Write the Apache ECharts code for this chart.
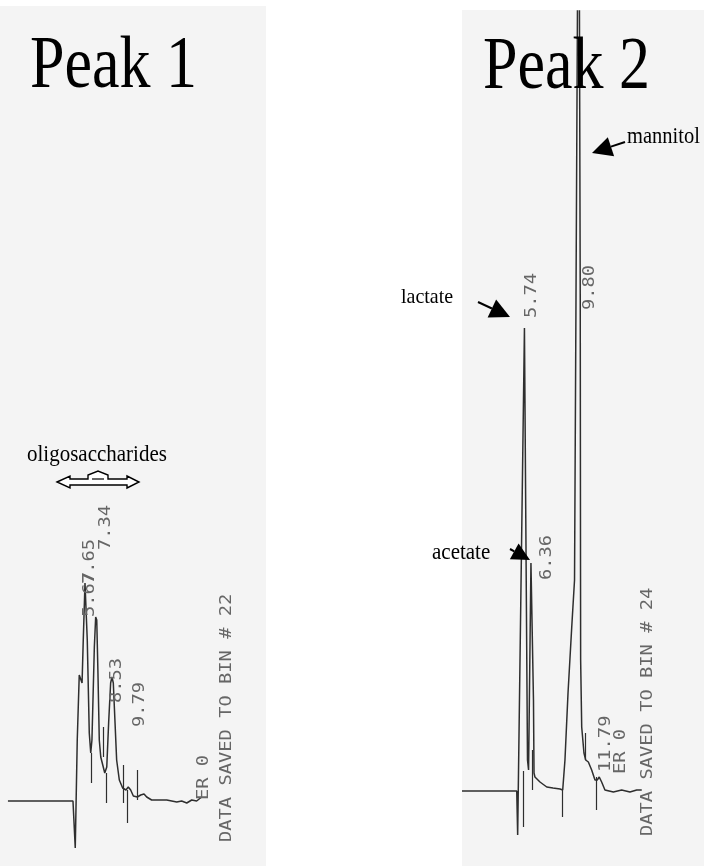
<!DOCTYPE html>
<html><head><meta charset="utf-8">
<script src="https://cdn.jsdelivr.net/npm/echarts@6/dist/echarts.min.js"></script>
<style>html,body{margin:0;padding:0;background:#fff}#c{width:704px;height:866px}</style>
</head><body><div id="c"></div>
<script>
// ---- Peak 1 chromatogram (time in min, detector signal in arbitrary units) ----
const peak1Time   = [0.72,5.59,5.67,5.76,5.91,6.06,6.17,6.27,6.36,6.49,6.57,6.66,6.81,6.92,7.01,7.19,7.29,7.37,7.46,7.56,7.67,7.82,7.97,8.12,8.26,8.41,8.51,8.61,8.74,8.86,9.06,9.31,9.56,9.73,9.91,10.11,10.41,10.66,10.91,11.11,11.48,12.61,13.36,13.73,14.11,14.48,14.85,15.23];
const peak1Signal = [0,0,-0.2,-4.7,6.1,12.6,12.8,11.8,16.1,21.8,21.6,16.1,6.8,4.8,6.1,15.4,18.4,18.1,12.8,6.1,4.4,3.6,2.8,3.4,7.8,11.8,12.4,11.8,7.8,4.1,2.1,1.3,1.1,1.4,1.1,0.5,0.4,0.6,0.7,0.4,0.1,0.1,-0.1,0,-0.2,0.1,0,0.4];
const peak1MarkTime = [6.99,7.82,8.06,9.36,9.64,10.41];
const peak1MarkFrom = [4.8,7.4,2.8,3.6,1.1,3.1];
const peak1MarkTo   = [1.8,4.4,-0.2,-0.2,-2.2,0.1];
const peak1LabelText   = ['5.67','7.65','7.34','8.53','9.79'];
const peak1LabelTime   = [6.86,6.86,8.06,8.89,10.61];
const peak1LabelSignal = [18.4,21.7,25.1,9.8,7.4];

// ---- Peak 2 chromatogram ----
const peak2Time   = [1.0,5.12,5.19,5.70,5.82,5.93,6.01,6.19,6.27,6.38,6.42,6.49,6.87,7.38,7.85,8.38,8.58,8.75,8.98,9.26,9.47,9.58,9.69,9.77,9.84,9.90,9.92,9.93,10.01,10.18,10.31,10.51,10.76,11.01,11.18,11.33,11.51,11.76,12.39,13.02,13.64,14.15,14.53];
const peak2Signal = [0,0,-4.4,46.3,46.3,3.1,2.1,22.8,22.8,9.1,1.8,1.4,0.9,0.4,0.3,0.2,0.1,3.1,9.8,16.4,21.1,49.1,78,95,78,49.1,23.1,13.1,6.4,3.8,3.1,2.9,2.1,1.1,1.1,1.4,0.9,0.1,-0.1,0.1,-0.1,0.1,0.1];
const peak2MarkTime = [5.62,6.25,8.55,10.31,11.14];
const peak2MarkFrom = [2,4.1,0.1,5.8,1.4];
const peak2MarkTo   = [-3.6,0.1,-2.6,3.1,-1.9];
const peak2LabelText   = ['5.74','6.36','9.80','11.79'];
const peak2LabelTime   = [6.27,7.40,10.63,11.84];
const peak2LabelSignal = [47.3,21.1,48.1,1.9];

const SERIF = '"Liberation Serif", "Times New Roman", serif';
const MONO = '"DejaVu Sans Mono", "Liberation Mono", monospace';
const TRACE = '#2e2e2e';
const PRINT = '#666666';

const chart = echarts.init(document.getElementById('c'));
const pairs = (t, v) => t.map((x, i) => [x, v[i]]);
const marks = (t, a, b) => t.map((x, i) => [{coord: [x, a[i]]}, {coord: [x, b[i]]}]);

function traceSeries(idx, t, v, mt, ma, mb) {
  return {
    type: 'line', xAxisIndex: idx, yAxisIndex: idx,
    data: pairs(t, v), symbol: 'none', clip: true, silent: true,
    lineStyle: {color: TRACE, width: 1.5},
    markLine: {
      silent: true, symbol: ['none', 'none'], label: {show: false},
      lineStyle: {color: TRACE, width: 1.2, type: 'solid'},
      data: marks(mt, ma, mb)
    }
  };
}

chart.setOption({
  animation: false,
  backgroundColor: '#ffffff',
  grid: [
    {left: 5, top: 21, width: 207, height: 840},
    {left: 462, top: 11, width: 186, height: 840}
  ],
  xAxis: [
    {gridIndex: 0, type: 'value', min: 0.5, max: 16, show: false},
    {gridIndex: 1, type: 'value', min: 1, max: 15, show: false}
  ],
  yAxis: [
    {gridIndex: 0, type: 'value', min: -6, max: 78, show: false},
    {gridIndex: 1, type: 'value', min: -6, max: 78, show: false}
  ],
  series: [
    traceSeries(0, peak1Time, peak1Signal, peak1MarkTime, peak1MarkFrom, peak1MarkTo),
    traceSeries(1, peak2Time, peak2Signal, peak2MarkTime, peak2MarkFrom, peak2MarkTo)
  ]
});

function vtext(x, y, text, size, sx) {
  return {type: 'text', x: x, y: y, rotation: Math.PI / 2, scaleX: sx || 1.25, z: 10,
    style: {text: text, font: size + 'px ' + MONO, fill: PRINT,
      textAlign: 'left', textVerticalAlign: 'middle', align: 'left', verticalAlign: 'middle'}};
}
function htext(x, y, text, size, sy, align) {
  return {type: 'text', x: x, y: y, scaleY: sy || 1, z: 10,
    style: {text: text, font: size + 'px ' + SERIF, fill: '#000',
      textAlign: align || 'left', textVerticalAlign: 'middle', align: align || 'left', verticalAlign: 'middle'}};
}
function arrow(tail, tip, len, wid) {
  const dx = tip[0] - tail[0], dy = tip[1] - tail[1];
  const L = Math.sqrt(dx * dx + dy * dy), ux = dx / L, uy = dy / L;
  const bx = tip[0] - ux * len, by = tip[1] - uy * len;
  const px = -uy * wid / 2, py = ux * wid / 2;
  return [
    {type: 'line', z: 10, shape: {x1: tail[0], y1: tail[1], x2: bx, y2: by}, style: {stroke: '#000', lineWidth: 2}},
    {type: 'polygon', z: 10, shape: {points: [[tip[0], tip[1]], [bx + px, by + py], [bx - px, by - py]]}, style: {fill: '#000'}}
  ];
}

const graphics = [
  {type: 'rect', z: -10, shape: {x: 0, y: 6, width: 266, height: 860}, style: {fill: '#f4f4f4'}},
  {type: 'rect', z: -10, shape: {x: 462, y: 10, width: 242, height: 856}, style: {fill: '#f4f4f4'}},
  htext(30, 67, 'Peak 1', 62, 1.2),
  htext(483, 68, 'Peak 2', 62, 1.2),
  htext(27, 455, 'oligosaccharides', 21, 1.1),
  htext(401, 297, 'lactate', 20, 1.1),
  htext(432, 553, 'acetate', 21, 1.1),
  htext(627, 137, 'mannitol', 20.5, 1.1),
  {type: 'polygon', z: 10, shape: {points: [[57,482],[70,476],[70,479],[88,479],[88,475],[98,471],[108,475],[108,479],[127,479],[127,476],[139,482],[127,488],[127,485],[70,485],[70,488]]},
    style: {fill: '#fff', stroke: '#000', lineWidth: 1.4}},
  {type: 'polyline', z: 10, shape: {points: [[92,479],[104,479]]}, style: {stroke: '#000', lineWidth: 1.2}},
  ...arrow([478, 302], [510, 317], 20, 20),
  ...arrow([510, 549], [530, 560], 18, 18),
  ...arrow([625, 142], [592, 153], 20, 20),
  vtext(204, 800, 'ER 0', 15),
  vtext(227, 842, 'DATA SAVED TO BIN # 22', 15),
  vtext(621, 774, 'ER 0', 15),
  vtext(648, 836, 'DATA SAVED TO BIN # 24', 15)
];
peak1LabelText.forEach((s, i) => {
  const p = chart.convertToPixel({xAxisIndex: 0, yAxisIndex: 0}, [peak1LabelTime[i], peak1LabelSignal[i]]);
  graphics.push(vtext(p[0], p[1], s, 15));
});
peak2LabelText.forEach((s, i) => {
  const p = chart.convertToPixel({xAxisIndex: 1, yAxisIndex: 1}, [peak2LabelTime[i], peak2LabelSignal[i]]);
  graphics.push(vtext(p[0], p[1], s, 15));
});
chart.setOption({graphic: graphics});
</script></body></html>
